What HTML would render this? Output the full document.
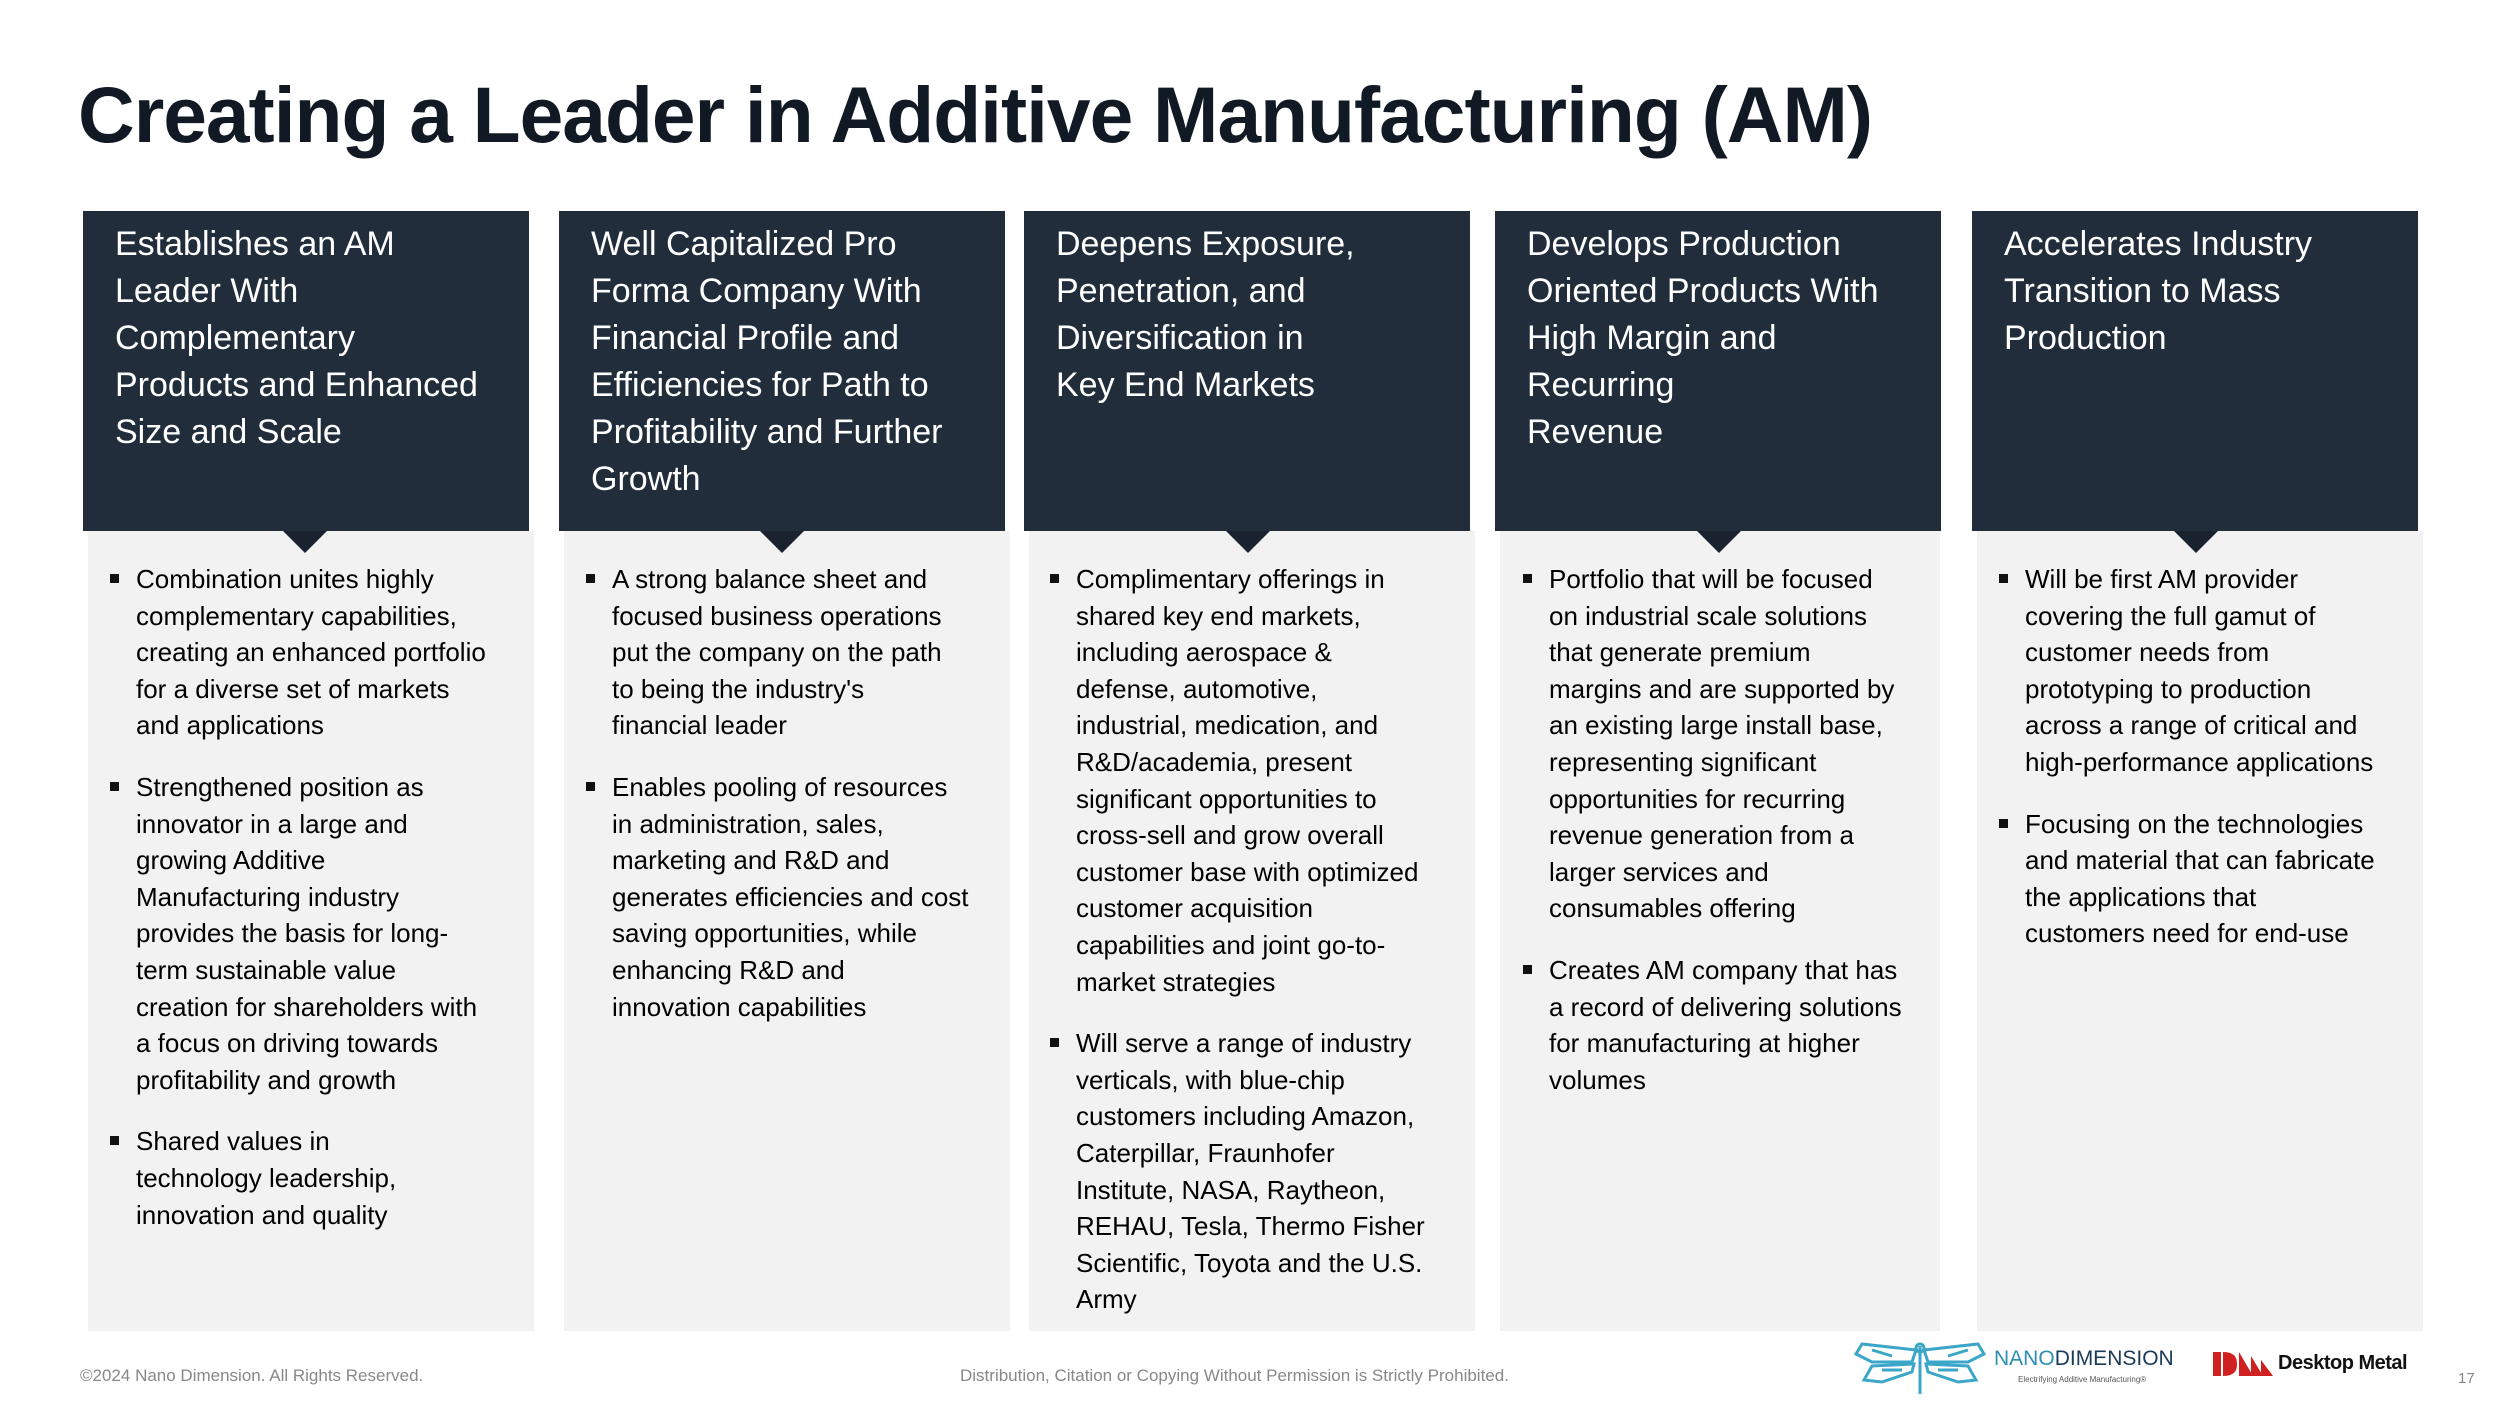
<!DOCTYPE html>
<html><head><meta charset="utf-8"><style>
html,body{margin:0;padding:0;}
body{width:2500px;height:1406px;position:relative;background:#fff;overflow:hidden;font-family:"Liberation Sans",sans-serif;color:#000;}
.title{position:absolute;left:78px;top:70px;font-size:78.5px;font-weight:bold;color:#111a24;letter-spacing:-1px;white-space:nowrap;}
.hd{position:absolute;top:211px;height:320px;background:#222d3c;color:#fff;font-size:34px;line-height:47px;padding:10px 0 0 32px;box-sizing:border-box;white-space:nowrap;}
.pn{position:absolute;top:531px;height:800px;background:#f2f2f2;}
.tri{position:absolute;top:531px;width:0;height:0;border-left:22px solid transparent;border-right:22px solid transparent;border-top:22px solid #1a2230;}
.bl{position:absolute;top:561px;font-size:26px;line-height:36.6px;color:#000;white-space:nowrap;}
.bl p{margin:0 0 25px 0;position:relative;padding-left:26px;}
.bl p:before{content:"";position:absolute;left:0;top:13px;width:9px;height:9px;background:#111;}
.ft{position:absolute;top:1366px;font-size:17px;color:#888;white-space:nowrap;}
</style></head><body>
<div class="title">Creating a Leader in Additive Manufacturing (AM)</div>

<div class="hd" style="left:83px;width:446px">Establishes an AM<br>Leader With<br>Complementary<br>Products and Enhanced<br>Size and Scale</div>
<div class="hd" style="left:559px;width:446px">Well Capitalized Pro<br>Forma Company With<br>Financial Profile and<br>Efficiencies for Path to<br>Profitability and Further<br>Growth</div>
<div class="hd" style="left:1024px;width:446px">Deepens Exposure,<br>Penetration, and<br>Diversification in<br>Key End Markets</div>
<div class="hd" style="left:1495px;width:446px">Develops Production<br>Oriented Products With<br>High Margin and<br>Recurring<br>Revenue</div>
<div class="hd" style="left:1972px;width:446px">Accelerates Industry<br>Transition to Mass<br>Production</div>

<div class="pn" style="left:88px;width:446px"></div>
<div class="pn" style="left:564px;width:446px"></div>
<div class="pn" style="left:1029px;width:446px"></div>
<div class="pn" style="left:1500px;width:440px"></div>
<div class="pn" style="left:1977px;width:446px"></div>

<div class="tri" style="left:283px"></div>
<div class="tri" style="left:760px"></div>
<div class="tri" style="left:1226px"></div>
<div class="tri" style="left:1697px"></div>
<div class="tri" style="left:2174px"></div>

<div class="bl" style="left:110px"><p>Combination unites highly<br>complementary capabilities,<br>creating an enhanced portfolio<br>for a diverse set of markets<br>and applications</p><p>Strengthened position as<br>innovator in a large and<br>growing Additive<br>Manufacturing industry<br>provides the basis for long-<br>term sustainable value<br>creation for shareholders with<br>a focus on driving towards<br>profitability and growth</p><p>Shared values in<br>technology leadership,<br>innovation and quality</p></div>

<div class="bl" style="left:586px"><p>A strong balance sheet and<br>focused business operations<br>put the company on the path<br>to being the industry's<br>financial leader</p><p>Enables pooling of resources<br>in administration, sales,<br>marketing and R&amp;D and<br>generates efficiencies and cost<br>saving opportunities, while<br>enhancing R&amp;D and<br>innovation capabilities</p></div>

<div class="bl" style="left:1050px"><p>Complimentary offerings in<br>shared key end markets,<br>including aerospace &amp;<br>defense, automotive,<br>industrial, medication, and<br>R&amp;D/academia, present<br>significant opportunities to<br>cross-sell and grow overall<br>customer base with optimized<br>customer acquisition<br>capabilities and joint go-to-<br>market strategies</p><p>Will serve a range of industry<br>verticals, with blue-chip<br>customers including Amazon,<br>Caterpillar, Fraunhofer<br>Institute, NASA, Raytheon,<br>REHAU, Tesla, Thermo Fisher<br>Scientific, Toyota and the U.S.<br>Army</p></div>

<div class="bl" style="left:1523px"><p>Portfolio that will be focused<br>on industrial scale solutions<br>that generate premium<br>margins and are supported by<br>an existing large install base,<br>representing significant<br>opportunities for recurring<br>revenue generation from a<br>larger services and<br>consumables offering</p><p>Creates AM company that has<br>a record of delivering solutions<br>for manufacturing at higher<br>volumes</p></div>

<div class="bl" style="left:1999px"><p>Will be first AM provider<br>covering the full gamut of<br>customer needs from<br>prototyping to production<br>across a range of critical and<br>high-performance applications</p><p>Focusing on the technologies<br>and material that can fabricate<br>the applications that<br>customers need for end-use</p></div>

<div class="ft" style="left:80px">©2024 Nano Dimension. All Rights Reserved.</div>
<div class="ft" style="left:960px">Distribution, Citation or Copying Without Permission is Strictly Prohibited.</div>
<div class="ft" style="left:2458px;font-size:15px;top:1370px">17</div>

<svg style="position:absolute;left:1852px;top:1340px" width="136" height="56" viewBox="0 0 136 56">
<g fill="none" stroke="#3aa6c8" stroke-width="3">
<path d="M64 10 L10 4 L4 14 L20 22 L60 22 Z"/><path d="M72 10 L126 4 L132 14 L116 22 L76 22 Z"/>
<path d="M62 24 L20 26 L12 40 L30 42 L60 32 Z"/><path d="M74 24 L116 26 L124 40 L106 42 L76 32 Z"/>
<path d="M68 6 L68 54"/><circle cx="68" cy="8" r="4"/>
<path d="M20 10 L40 16 M30 30 L50 30 M96 16 L116 10 M86 30 L106 30"/>
</g></svg>
<div style="position:absolute;left:1994px;top:1347px;font-size:21px;color:#2b8fb3;white-space:nowrap">NANO<span style="color:#1a3a5a">DIMENSION</span></div>
<div style="position:absolute;left:2018px;top:1375px;font-size:8px;color:#555;white-space:nowrap">Electrifying Additive Manufacturing®</div>
<svg style="position:absolute;left:2213px;top:1350px" width="62" height="28" viewBox="0 0 62 28">
<path d="M0 2 H8 V26 H0 Z M10 2 C22 2 24 8 24 14 C24 20 22 26 10 26 Z" fill="#d0201f"/>
<path d="M26 26 L26 2 L40 26 Z M38 26 L38 6 L50 26 Z M48 26 L48 10 L60 26 Z" fill="#d0201f"/>
</svg>
<div style="position:absolute;left:2278px;top:1352px;font-size:20px;font-weight:bold;color:#111;letter-spacing:-0.5px;white-space:nowrap">Desktop Metal</div>
</body></html>
